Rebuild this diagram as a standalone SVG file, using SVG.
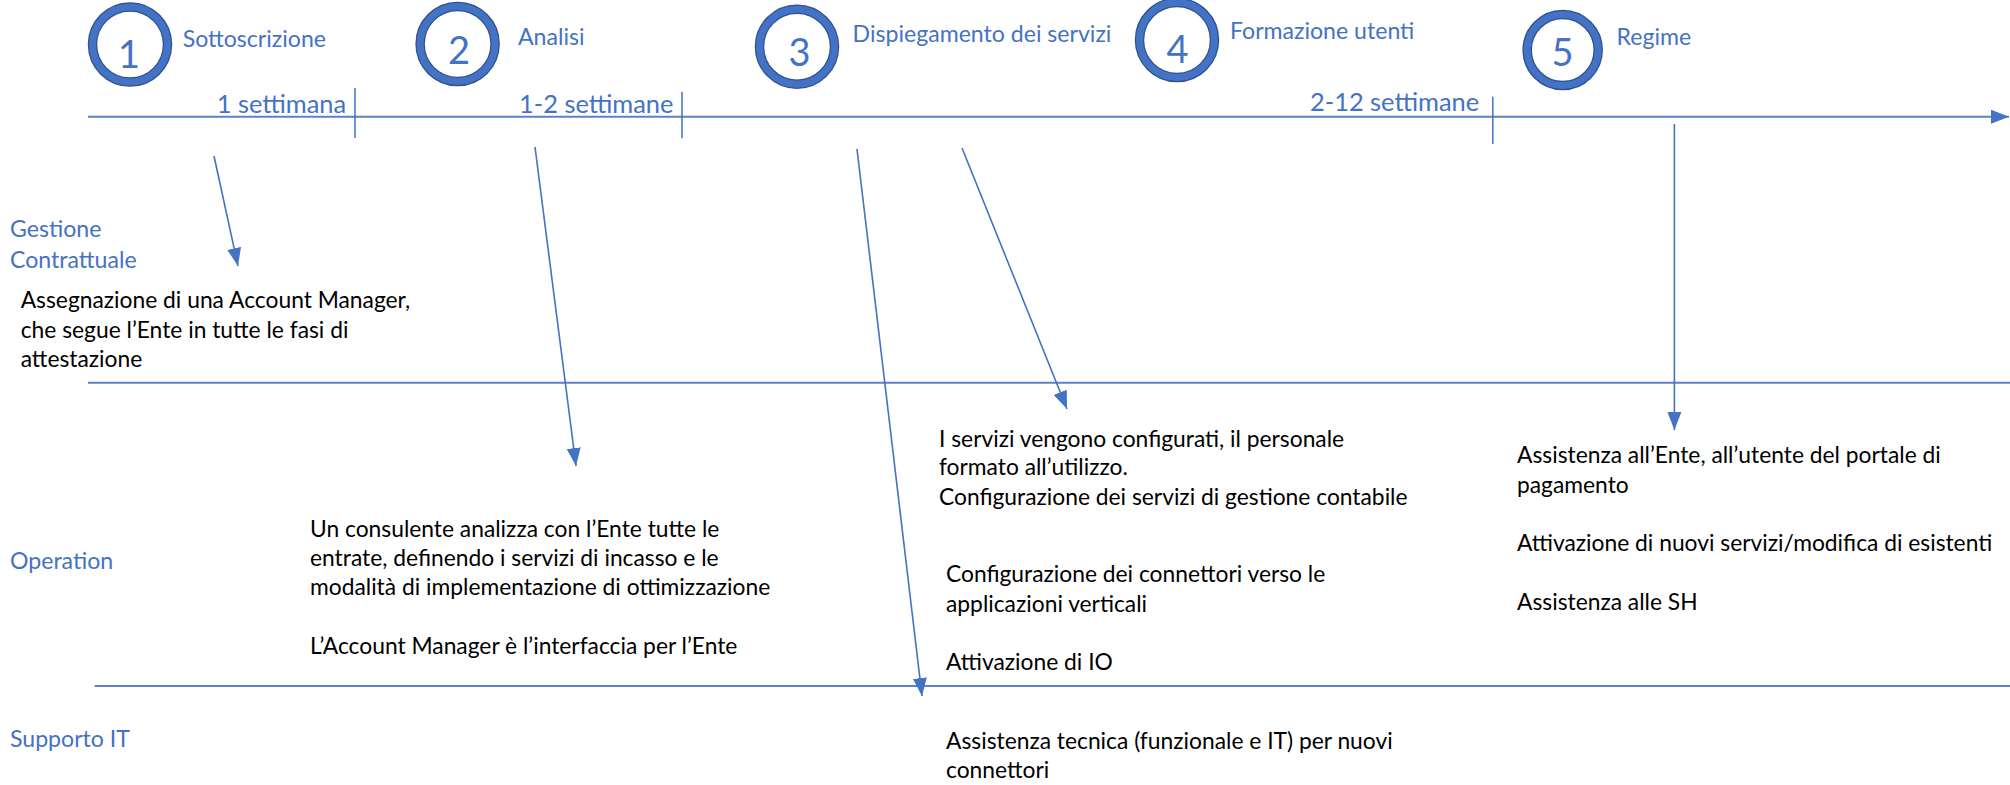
<svg xmlns="http://www.w3.org/2000/svg" width="2010" height="785" viewBox="0 0 2010 785">
<style>
  text { font-family: "Lato", "Carlito", "Liberation Sans", sans-serif; }
  .blue { fill: #4472C4; font-size: 23.1px; }
  .dur { fill: #4472C4; font-size: 25.4px; }
  .body { fill: #000000; font-size: 22.8px; }
  .num { fill: #4472C4; font-size: 38px; text-anchor: middle; }
  .ringO { fill: none; stroke: #2F528F; stroke-width: 9.5; }
  .ringI { fill: none; stroke: #4472C4; stroke-width: 7; }
  .hline { stroke: #5B82CA; stroke-width: 2; fill: none; }
  .tick { stroke: #4472C4; stroke-width: 1.5; fill: none; }
  .arrow { stroke: #4472C4; stroke-width: 1.6; fill: none; marker-end: url(#ah); }
</style>
<defs>
  <marker id="ah" markerUnits="userSpaceOnUse" markerWidth="19" markerHeight="14" refX="18" refY="7" orient="auto">
    <path d="M0,0 L18,7 L0,14 Z" fill="#4472C4"/>
  </marker>
</defs>
<rect width="2010" height="785" fill="#FFFFFF"/>

<g id="timeline">
  <line class="hline" x1="88" y1="116.7" x2="2009" y2="116.7" style="marker-end:url(#ah)"/>
  <line class="tick" x1="355" y1="88" x2="355" y2="138"/>
  <line class="tick" x1="682" y1="91.7" x2="682" y2="138.3"/>
  <line class="tick" x1="1492.8" y1="96.7" x2="1492.8" y2="144"/>
</g>
<g id="lane-dividers">
  <line class="hline" x1="88" y1="382.7" x2="2010" y2="382.7"/>
  <line class="hline" x1="94.6" y1="686" x2="2010" y2="686"/>
</g>

<g id="phase1">
  <circle class="ringO" cx="130" cy="44.5" r="37.5"/>
  <circle class="ringI" cx="130" cy="44.5" r="37.5"/>
  <text class="num" x="129" y="67.5">1</text>
  <text class="blue" x="182.7" y="46.7">Sottoscrizione</text>
</g>
<g id="phase2">
  <circle class="ringO" cx="457.6" cy="44" r="37.5"/>
  <circle class="ringI" cx="457.6" cy="44" r="37.5"/>
  <text class="num" x="459" y="64">2</text>
  <text class="blue" x="518" y="45">Analisi</text>
</g>
<g id="phase3">
  <circle class="ringO" cx="797" cy="46.7" r="37.5"/>
  <circle class="ringI" cx="797" cy="46.7" r="37.5"/>
  <text class="num" x="799.5" y="66">3</text>
  <text class="blue" x="852.6" y="41.5">Dispiegamento dei servizi</text>
</g>
<g id="phase4">
  <circle class="ringO" cx="1177" cy="40" r="37.5"/>
  <circle class="ringI" cx="1177" cy="40" r="37.5"/>
  <text class="num" x="1177.5" y="62.5">4</text>
  <text class="blue" x="1230" y="39">Formazione utenti</text>
</g>
<g id="phase5">
  <circle class="ringO" cx="1562.7" cy="50" r="35.5"/>
  <circle class="ringI" cx="1562.7" cy="50" r="35.5"/>
  <text class="num" x="1562.5" y="66">5</text>
  <text class="blue" x="1616.6" y="45">Regime</text>
</g>

<g id="durations">
  <text class="dur" x="216.7" y="113.3">1 settimana</text>
  <text class="dur" x="519" y="113.3">1-2 settimane</text>
  <text class="dur" x="1310" y="111">2-12 settimane</text>
</g>

<g id="lane-labels">
  <text class="blue" x="10" y="236.7">Gestione</text>
  <text class="blue" x="10" y="267.7">Contrattuale</text>
  <text class="blue" x="10" y="569">Operation</text>
  <text class="blue" x="10" y="746.7">Supporto IT</text>
</g>

<g id="text-gestione">
  <text class="body" x="20.7" y="308">Assegnazione di una Account Manager,</text>
  <text class="body" x="20.7" y="337.7">che segue l’Ente in tutte le fasi di</text>
  <text class="body" x="20.7" y="366.7">attestazione</text>
</g>
<g id="text-analisi">
  <text class="body" x="310" y="536.7">Un consulente analizza con l’Ente tutte le</text>
  <text class="body" x="310" y="565.7">entrate, definendo i servizi di incasso e le</text>
  <text class="body" x="310" y="595">modalità di implementazione di ottimizzazione</text>
  <text class="body" x="310" y="654">L’Account Manager è l’interfaccia per l’Ente</text>
</g>
<g id="text-dispiegamento">
  <text class="body" x="939" y="446.7">I servizi vengono configurati, il personale</text>
  <text class="body" x="939" y="475">formato all’utilizzo.</text>
  <text class="body" x="939" y="505">Configurazione dei servizi di gestione contabile</text>
</g>
<g id="text-connettori">
  <text class="body" x="946" y="582.3">Configurazione dei connettori verso le</text>
  <text class="body" x="946" y="611.7">applicazioni verticali</text>
  <text class="body" x="946" y="670">Attivazione di IO</text>
</g>
<g id="text-supporto">
  <text class="body" x="946" y="749">Assistenza tecnica (funzionale e IT) per nuovi</text>
  <text class="body" x="946" y="778.3">connettori</text>
</g>
<g id="text-regime">
  <text class="body" x="1517" y="463.3">Assistenza all’Ente, all’utente del portale di</text>
  <text class="body" x="1517" y="492.5">pagamento</text>
  <text class="body" x="1517" y="551">Attivazione di nuovi servizi/modifica di esistenti</text>
  <text class="body" x="1517" y="610">Assistenza alle SH</text>
</g>

<g id="connectors">
  <line class="arrow" x1="214" y1="156" x2="238" y2="266"/>
  <line class="arrow" x1="535" y1="147" x2="576" y2="466"/>
  <line class="arrow" x1="857" y1="149" x2="922" y2="696"/>
  <line class="arrow" x1="962" y1="148" x2="1067" y2="409"/>
  <line class="arrow" x1="1674.4" y1="124" x2="1674.4" y2="430"/>
</g>
</svg>
